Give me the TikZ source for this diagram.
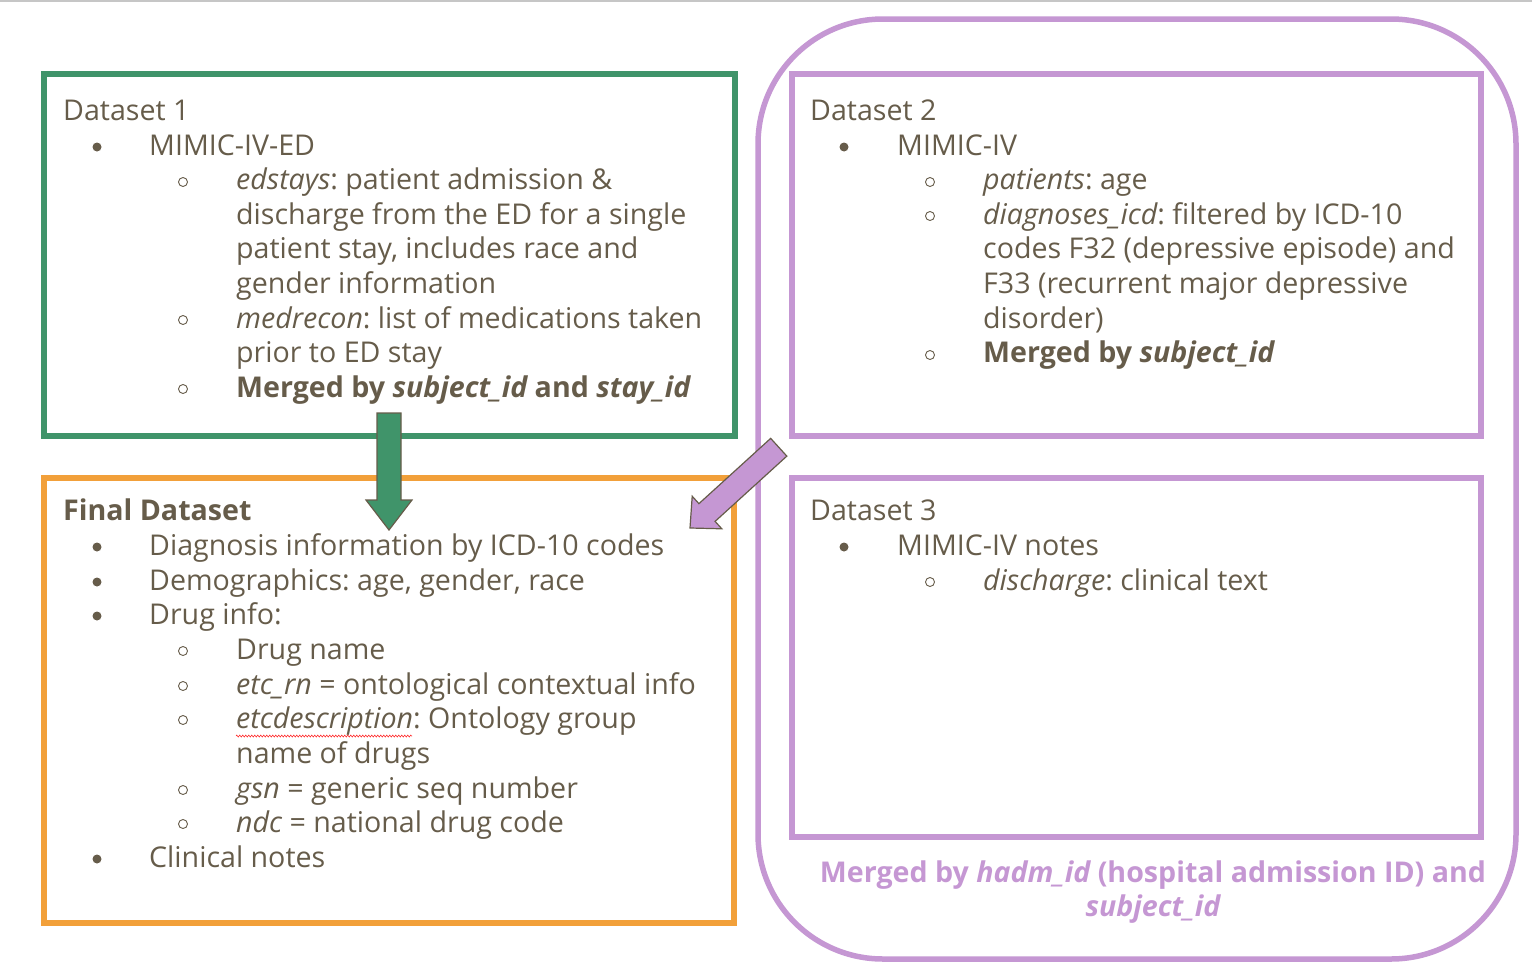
\documentclass[tikz,border=0pt]{standalone}
\usepackage{fontspec}
\setmainfont{Open Sans}
\usetikzlibrary{decorations.pathmorphing}
\definecolor{txt}{RGB}{102,92,74}
\definecolor{grn}{RGB}{64,148,106}
\definecolor{org}{RGB}{242,160,58}
\definecolor{pur}{RGB}{197,151,211}
\newcommand{\itx}[1]{{\itshape #1}}
\frenchspacing
\tikzset{
  box/.style={line width=5.5pt},
  ln/.style={anchor=base west, inner sep=0pt, text=txt, font=\fontsize{28.6}{34}\selectfont},
  bul/.style={circle, fill=txt, inner sep=0pt, minimum size=9pt},
  sub/.style={circle, draw=txt, line width=0.9pt, inner sep=0pt, minimum size=9pt},
  fat/.style={draw=txt, line width=1.2pt, line join=miter}
}
\begin{document}
\begin{tikzpicture}[x=1pt,y=-1pt]
\useasboundingbox (0,0) rectangle (1532,972);
\draw[gray!45, line width=2pt] (0,1) -- (1532,1);
% boxes
\draw[box, grn] (44,74) rectangle (735,436);
\draw[box, org] (44,478) rectangle (734,923);
\draw[box, pur, rounded corners=125pt] (758,19) rectangle (1516,959);
\draw[box, pur] (792,74) rectangle (1481,436);
\draw[box, pur] (792,478) rectangle (1481,837);
% arrows
\coordinate (gs) at (389,413);
\coordinate (gt) at (389,530);
\draw[fat, fill=grn] (377,413) -- (401,413) -- (401,500) -- (412,500) -- (gt) -- (366,500) -- (377,500) -- cycle;
\begin{scope}[shift={(690,528)}, rotate=42.3]
\draw[fat, fill=pur] (0,0) -- (23,-22) -- (23,-12) -- (120,-12) -- (120,12) -- (23,12) -- (23,22) -- cycle;
\end{scope}
% Dataset 1
\node[ln] (d1) at (63,120) {Dataset 1};
\node[bul] (d1b1) at (97,147) {};
\node[ln] (d1l1) at (149,155) {MIMIC-IV-ED};
\node[sub] (d1s1) at (183,182) {};
\node[ln] (d1l2) at (236,189) {\itx{edstays}: patient admission \&};
\node[ln] (d1l3) at (236,224) {discharge from the ED for a single};
\node[ln] (d1l4) at (236,258) {patient stay, includes race and};
\node[ln] (d1l5) at (236,293) {gender information};
\node[sub] (d1s2) at (183,320) {};
\node[ln] (d1l6) at (236,328) {\itx{medrecon}: list of medications taken};
\node[ln] (d1l7) at (236,362) {prior to ED stay};
\node[sub] (d1s3) at (183,389) {};
\node[ln] (d1l8) at (236,397) {\bfseries Merged by \itx{subject\_id} and \itx{stay\_id}};
% Dataset 2
\node[ln] (d2) at (810,120) {Dataset 2};
\node[bul] (d2b1) at (844,147) {};
\node[ln] (d2l1) at (897,155) {MIMIC-IV};
\node[sub] (d2s1) at (930,182) {};
\node[ln] (d2l2) at (983,189) {\itx{patients}: age};
\node[sub] (d2s2) at (930,216) {};
\node[ln] (d2l3) at (983,224) {\itx{diagnoses\_icd}: filtered by ICD-10};
\node[ln] (d2l4) at (983,258) {codes F32 (depressive episode) and};
\node[ln] (d2l5) at (983,293) {F33 (recurrent major depressive};
\node[ln] (d2l6) at (983,328) {disorder)};
\node[sub] (d2s3) at (930,355) {};
\node[ln] (d2l7) at (983,362) {\bfseries Merged by \itx{subject\_id}};
% Dataset 3
\node[ln] (d3) at (810,520) {Dataset 3};
\node[bul] (d3b1) at (844,547) {};
\node[ln] (d3l1) at (897,555) {MIMIC-IV notes};
\node[sub] (d3s1) at (930,582) {};
\node[ln] (d3l2) at (983,590) {\itx{discharge}: clinical text};
% Merged
\node[anchor=base, inner sep=0pt, text=pur, font=\fontsize{28.6}{34}\selectfont\bfseries] (m1) at (1153,882) {Merged by \itx{hadm\_id} (hospital admission ID) and};
\node[anchor=base, inner sep=0pt, text=pur, font=\fontsize{28.6}{34}\selectfont\bfseries] (m2) at (1153,916) {\itx{subject\_id}};
% Final dataset
\node[ln] (f0) at (63,520) {\bfseries Final Dataset};
\node[bul] (fb1) at (97,547) {};
\node[ln] (f1) at (149,555) {Diagnosis information by ICD-10 codes};
\node[bul] (fb2) at (97,582) {};
\node[ln] (f2) at (149,590) {Demographics: age, gender, race};
\node[bul] (fb3) at (97,616) {};
\node[ln] (f3) at (149,624) {Drug info:};
\node[sub] (fs1) at (183,651) {};
\node[ln] (f4) at (236,659) {Drug name};
\node[sub] (fs2) at (183,686) {};
\node[ln] (f5) at (236,694) {\itx{etc\_rn} = ontological contextual info};
\node[sub] (fs3) at (183,720) {};
\node[ln] (f6) at (236,728) {\itx{etcdescription}: Ontology group};
\node[ln] (f7) at (236,763) {name of drugs};
\node[sub] (fs4) at (183,790) {};
\node[ln] (f8) at (236,798) {\itx{gsn} = generic seq number};
\node[sub] (fs5) at (183,824) {};
\node[ln] (f9) at (236,832) {\itx{ndc} = national drug code};
\node[bul] (fb4) at (97,859) {};
\node[ln] (f10) at (149,867) {Clinical notes};
\draw[red!80, line width=0.6pt, decorate, decoration={zigzag, segment length=3pt, amplitude=1pt}] (236,736) -- (412,736);
\end{tikzpicture}
\end{document}
